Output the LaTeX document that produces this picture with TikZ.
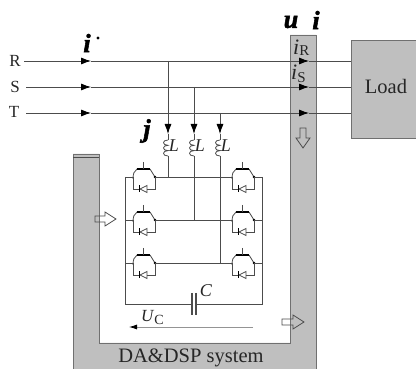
\documentclass[tikz,border=0pt]{standalone}
\usepackage{fontspec}
\setmainfont{Liberation Serif}
\newfontfamily\heavy{Liberation Serif}[UprightFont=* Bold Italic,FakeBold=2]
\usetikzlibrary{arrows.meta,calc}
\definecolor{panel}{gray}{0.75}
\definecolor{ink}{gray}{0.3}
\definecolor{txt}{gray}{0.15}
\tikzset{
  x=1pt,y=-1pt,
  wire/.style={draw=ink,line width=0.8pt},
  tipwire/.style={wire,-{Latex[length=10pt,width=7pt,color=black]}},
  panelline/.style={draw=ink!80,line width=0.9pt,fill=panel},
  hollow/.style={draw=ink,line width=0.8pt},
  lab/.style={inner sep=0pt,text=txt},
  big/.style={lab,font=\fontsize{20.5}{22}\selectfont},
  mid/.style={lab,font=\fontsize{17}{19}\selectfont},
  sym/.style={lab,font=\fontsize{18}{20}\selectfont\itshape},
  bold/.style={lab,text=black,font=\fontsize{26}{28}\selectfont\heavy},
  igbt/.pic={
    \draw[wire] (-10,2) .. controls (-10,-3) and (-9,-6) .. (-6,-8);
    \draw[wire] (7,-8) -- (12,0);
    \draw[wire,line width=1.3pt,draw=black] (-6,-8) -- (7,-8);
    \draw[wire] (0,-15) -- (0,-8);
    \fill[black] (12,0) circle (1.3pt);
    \draw[wire] (-10,0) -- (-10,12) -- (-4,12);
    \draw[wire] (12,0) -- (12,12) -- (4,12);
    \draw[wire] (4,8.5) -- (4,15.5) -- (-3,12) -- cycle;
    \draw[wire,draw=black] (-4,8.5) -- (-4,15.5);
  },
  inductor/.pic={
    \draw[wire] (0,0) .. controls (-6,0) and (-6,5.3) .. (0,5.3)
      .. controls (-6,5.3) and (-6,10.6) .. (0,10.6)
      .. controls (-6,10.6) and (-6,16) .. (0,16);
  }
}
\begin{document}
\begin{tikzpicture}
\useasboundingbox (0,0) rectangle (416,369);
\fill[white] (0,0) rectangle (416,369);
% gray U-shaped panel
\filldraw[panelline] (73,369) -- (73,154) -- (99,154) -- (99,343) -- (290,343) -- (290,35) -- (316,35) -- (316,369);
\draw[draw=ink,line width=0.8pt] (73,157) -- (99,157);
\node[panelline,minimum width=65pt,minimum height=98pt,inner sep=0pt,anchor=north west] (load) at (351,40) {};
\node[big] (loadtext) at (386,86) {Load};
% phase labels
\node[mid] (lr) at (15,61) {R};
\node[mid] (ls) at (15,87) {S};
\node[mid] (lt) at (14,112) {T};
% coordinates
\coordinate (r0) at (24,61); \coordinate (s0) at (26,87); \coordinate (t0) at (26,113);
\coordinate (ra) at (91,61); \coordinate (sa) at (91,87); \coordinate (ta) at (91,113);
\coordinate (rb) at (309,61); \coordinate (sb) at (309,87); \coordinate (tb) at (309,113);
\coordinate (r1) at (351,61); \coordinate (s1) at (351,87); \coordinate (t1) at (351,113);
\foreach \p in {r,s,t}{
  \draw[tipwire] (\p0) -- (\p a);
  \draw[tipwire] (\p a) -- (\p b);
  \draw[wire] (\p b) -- (\p1);
}
% branches
\coordinate (b1) at (168,61); \coordinate (b2) at (194,87); \coordinate (b3) at (220,113);
\coordinate (h1) at (168,134); \coordinate (h2) at (194,134); \coordinate (h3) at (220,134);
\coordinate (i1) at (168,140); \coordinate (i2) at (194,140); \coordinate (i3) at (220,140);
\coordinate (m1) at (168,156); \coordinate (m2) at (194,156); \coordinate (m3) at (220,156);
\coordinate (n1) at (168,177); \coordinate (n2) at (194,220); \coordinate (n3) at (220,263);
\foreach \k in {1,2,3}{
  \draw[tipwire] (b\k) -- (h\k);
  \draw[wire] (h\k) -- (i\k);
  \pic at (i\k) {inductor};
  \draw[wire] (m\k) -- (n\k);
}
\node[sym] (l1) at (174,146) {L};
\node[sym] (l2) at (200,146) {L};
\node[sym] (l3) at (226,146) {L};
% inverter
\foreach \y [count=\n] in {177,220,263}{
  \pic at (143,\y) {igbt};
  \pic at (242,\y) {igbt};
  \coordinate (la\n) at (125,\y);
  \coordinate (lb\n) at (133,\y);
  \coordinate (ma\n) at (155,\y);
  \coordinate (mb\n) at (232,\y);
  \coordinate (ra\n) at (254,\y);
  \coordinate (rr\n) at (262,\y);
  \draw[wire] (la\n) -- (lb\n);
  \draw[wire] (ma\n) -- (mb\n);
  \draw[wire] (ra\n) -- (rr\n);
}
\coordinate (bl) at (125,304); \coordinate (br) at (262,304);
\coordinate (cl) at (192,304); \coordinate (cr) at (196,304);
\draw[wire] (la1) -- (bl) -- (cl);
\draw[wire] (rr1) -- (br) -- (cr);
\draw[wire,line width=1.1pt] (192,293) -- (192,315);
\draw[wire,line width=1.1pt] (196,293) -- (196,315);
\node[sym] (cc) at (206,291) {C};
% Uc
\coordinate (ua) at (253,327); \coordinate (ub) at (129,327);
\draw[wire,draw=ink!60,-{Latex[length=8pt,width=5pt,color=black]}] (ua) -- (ub);
\node[lab,anchor=base west] (uc) at (141,322) {\fontsize{17}{19}\selectfont\textit{U}\fontsize{14}{16}\selectfont\raisebox{-2.5pt}{C}};
% hollow arrows
\draw[hollow] (95,216) -- (105,216) -- (105,212) -- (116,219) -- (105,226) -- (105,222) -- (95,222) -- cycle;
\draw[hollow] (282,319) -- (293,319) -- (293,315) -- (304,322) -- (293,329) -- (293,325) -- (282,325) -- cycle;
\draw[hollow] (300,128) -- (306,128) -- (306,138) -- (310,138) -- (303,148) -- (296,138) -- (300,138) -- cycle;
% labels
\node[big] (sys) at (191,358) {DA\&DSP system};
\node[lab,anchor=base west] (ir) at (293,55) {\fontsize{22}{24}\selectfont\textit{i}\fontsize{15}{17}\selectfont\raisebox{-1pt}{R}};
\node[lab,anchor=base west] (is) at (291,80) {\fontsize{22}{24}\selectfont\textit{i}\fontsize{15}{17}\selectfont\raisebox{-3pt}{S}};
\node[bold] (istar) at (87,43) {i};
\node[lab,circle,fill=black,inner sep=1.2pt] (idot) at (98,38) {};
\node[bold] (ju) at (291,22) {u};
\node[bold] (ji) at (316,20) {i};
\node[bold] (jj) at (147,131) {j};
\end{tikzpicture}
\end{document}
